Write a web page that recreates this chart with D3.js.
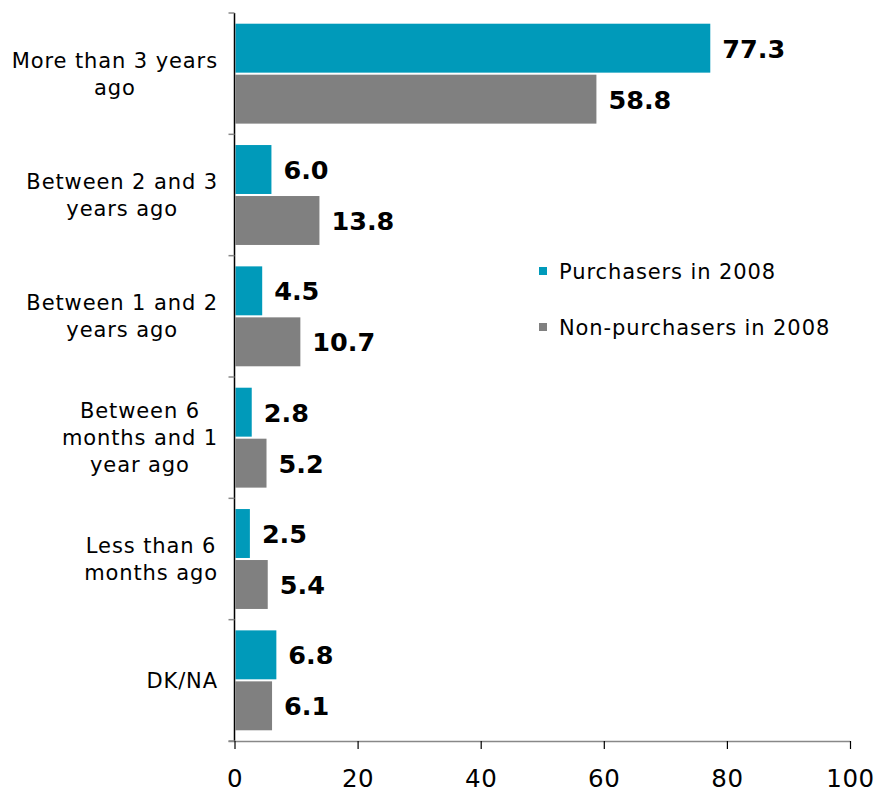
<!DOCTYPE html>
<html>
<head>
<meta charset="utf-8">
<script src="https://cdn.jsdelivr.net/npm/d3@7"></script>
<style>
  html, body { margin: 0; padding: 0; background: #fff; }
  svg { display: block; font-family: "DejaVu Sans", Verdana, sans-serif; }
</style>
</head>
<body>
<svg id="chart" width="879" height="794"></svg>
<script>
// Time since last purchase, by group
const categories = [
  "More than 3 years\nago",
  "Between 2 and 3\nyears ago",
  "Between 1 and 2\nyears ago",
  "Between 6\nmonths and 1\nyear ago",
  "Less than 6\nmonths ago",
  "DK/NA"
];
const seriesNames = ["Purchasers in 2008", "Non-purchasers in 2008"];
const purchasers = [77.3, 6.0, 4.5, 2.8, 2.5, 6.8];
const nonPurchasers = [58.8, 13.8, 10.7, 5.2, 5.4, 6.1];
const xTicks = [0, 20, 40, 60, 80, 100];
const colors = ["#009ABA", "#808080"];

const svg = d3.select("#chart");

const x = d3.scaleLinear().domain([0, 100]).range([234.5, 850]);
const y = d3.scaleBand().domain(categories).range([13, 741]).padding(0);
const ySub = d3.scaleBand().domain(seriesNames)
  .range([0, y.bandwidth()]).paddingInner(0.04).paddingOuter(0.21);

const rows = categories.map((c, i) => ({
  category: c,
  values: [
    { series: seriesNames[0], value: purchasers[i] },
    { series: seriesNames[1], value: nonPurchasers[i] }
  ]
}));

// Bars and value labels
const groups = svg.append("g").selectAll("g")
  .data(rows).join("g")
  .attr("transform", d => `translate(0,${y(d.category)})`);

groups.selectAll("rect")
  .data(d => d.values).join("rect")
  .attr("x", x(0) + 1)
  .attr("y", d => ySub(d.series))
  .attr("width", d => x(d.value) - x(0) - 1)
  .attr("height", ySub.bandwidth())
  .attr("fill", (d, i) => colors[i]);

groups.selectAll("text.value")
  .data(d => d.values).join("text")
  .attr("class", "value")
  .attr("x", d => x(d.value) + 12)
  .attr("y", d => ySub(d.series) + ySub.bandwidth() / 2)
  .attr("dy", "0.37em")
  .attr("font-size", 25.5)
  .attr("font-weight", "bold")
  .attr("fill", "#000")
  .text(d => d.value.toFixed(1));

// Y axis: line with ticks on category boundaries
const yAxis = svg.append("g");
yAxis.append("line")
  .attr("x1", x(0)).attr("x2", x(0))
  .attr("y1", y.range()[0]).attr("y2", y.range()[1])
  .attr("stroke", "#000").attr("stroke-width", 1.5);
const boundaries = categories.map(c => y(c)).concat([y.range()[1]]);
yAxis.selectAll("line.tick")
  .data(boundaries).join("line")
  .attr("class", "tick")
  .attr("x1", x(0) - 6).attr("x2", x(0))
  .attr("y1", d => d).attr("y2", d => d)
  .attr("stroke", "#888").attr("stroke-width", 1.5);

// Category labels: block right-aligned, lines centred within block
const labelRight = 218;
const lineH = 27;
const labels = svg.append("g");
rows.forEach(r => {
  const lines = r.category.split("\n");
  const g = labels.append("g");
  const texts = g.selectAll("text").data(lines).join("text")
    .attr("font-size", 21)
    .attr("letter-spacing", 0.9)
    .attr("fill", "#000")
    .attr("text-anchor", "middle")
    .attr("y", (d, i) => y(r.category) + y.bandwidth() / 2 + (i - (lines.length - 1) / 2) * lineH)
    .attr("dy", "0.36em")
    .text(d => d);
  let maxW = 0;
  texts.each(function () { maxW = Math.max(maxW, this.getComputedTextLength()); });
  texts.attr("x", labelRight - maxW / 2);
});

// X axis
const xAxis = svg.append("g").attr("transform", `translate(0,741)`)
  .call(d3.axisBottom(x).tickValues(xTicks).tickSize(8).tickSizeOuter(0).tickFormat(d3.format("d")));
xAxis.select(".domain").attr("stroke", "#888").attr("stroke-width", 1.5)
  .attr("d", `M${x(0) - 6},0.5H${x(100)}`);
xAxis.selectAll(".tick line").attr("stroke", "#000").attr("stroke-width", 1.2);
xAxis.selectAll(".tick text")
  .attr("font-family", "DejaVu Sans, Verdana, sans-serif")
  .attr("font-size", 24.5).attr("letter-spacing", 0.6).attr("fill", "#000")
  .attr("y", 46).attr("dy", 0);

// Legend
const legend = svg.append("g").attr("transform", "translate(539,271)");
const items = legend.selectAll("g").data(seriesNames).join("g")
  .attr("transform", (d, i) => `translate(0,${i * 56})`);
items.append("rect").attr("x", 0).attr("y", -4).attr("width", 8).attr("height", 8)
  .attr("fill", (d, i) => colors[i]);
items.append("text").attr("x", 20).attr("dy", "0.36em")
  .attr("font-size", 21).attr("letter-spacing", 0.9).attr("fill", "#000").text(d => d);
</script>
</body>
</html>
